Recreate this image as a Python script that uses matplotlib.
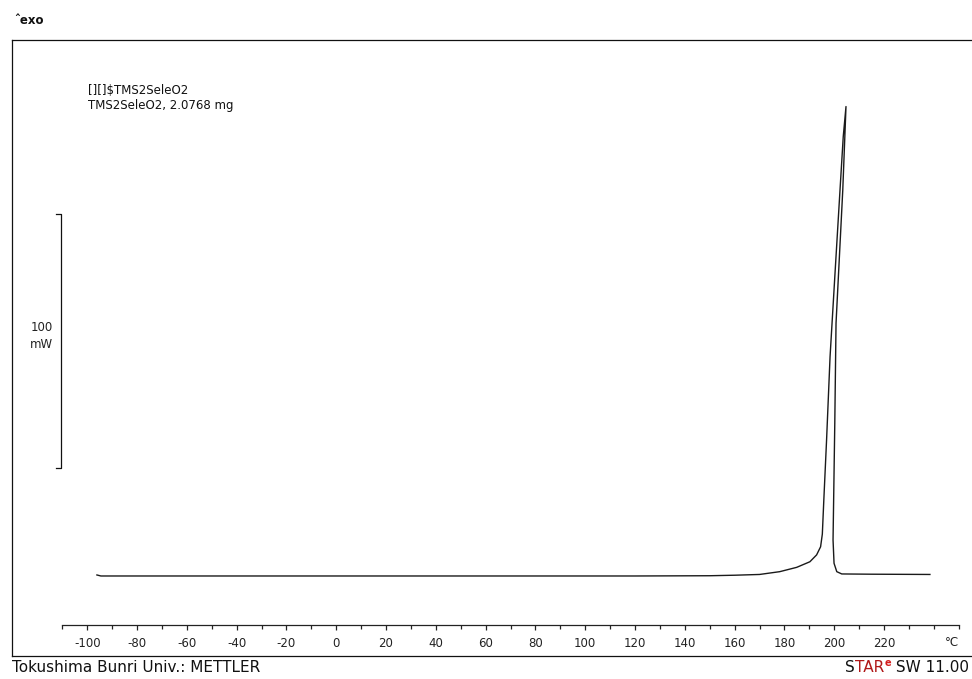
import matplotlib
matplotlib.use("Agg")
import matplotlib.pyplot as plt

plt.rcParams['font.family'] = ['DejaVu Sans']

# DSC heating curve: sample temperature (°C) vs heat flow (mW, exo up, relative to baseline)
temperature = [-96.1, -94.5, -80, -40, 0, 40, 80, 120, 150, 160, 170, 178.1, 184.9,
               190.2, 192.9, 194.5, 195.2, 195.8, 196.9, 198.3, 200.3, 202.3, 203.6,
               204.7, 203.4, 200.7, 200.2, 199.5, 199.9, 201.0, 203.0, 215.0, 238.4]
heat_flow = [0.4, 0.0, 0.0, 0.0, 0.0, 0.0, 0.0, 0.0, 0.1, 0.3, 0.6, 1.7, 3.4,
             5.6, 8.3, 11.5, 16.5, 30.0, 53.5, 86.3, 119.3, 152.0, 173.0,
             184.8, 151.8, 99.5, 60.1, 14.2, 5.0, 1.7, 0.8, 0.7, 0.6]

major_ticks = list(range(-100, 221, 20))
minor_ticks = [t for t in range(-110, 251, 10) if t not in major_ticks]
axis_range = (-110, 250)

scale_mw = 100
scale_bottom = 42.5
scale_x = -110.4

W, H = 972, 679
fig = plt.figure(figsize=(W / 100, H / 100), dpi=100)

# outer frame holding the curve
fl, fb, fw, fh = 12, 23, 960, 616
xlim = (-130.2, 255.3)
ax = fig.add_axes([fl / W, fb / H, fw / W, fh / H])
ax.set_xlim(*xlim)
ax.set_ylim(-31.5, 211.0)
ax.set_xticks([])
ax.set_yticks([])
ax.spines['right'].set_visible(False)
for s in ('left', 'top', 'bottom'):
    ax.spines[s].set_linewidth(0.9)
    ax.spines[s].set_color('#111111')

ax.plot(temperature, heat_flow, color='#1a1a1a', lw=1.0, solid_joinstyle='round')

# 100 mW scale bar
ax.plot([scale_x - 2.2, scale_x, scale_x, scale_x - 2.2],
        [scale_bottom + scale_mw, scale_bottom + scale_mw, scale_bottom, scale_bottom],
        color='#111111', lw=0.9)
ax.text(-118.3, 98.0, f"{scale_mw}", ha='center', va='center', fontsize=8.5, color='#222222')
ax.text(-118.3, 91.0, "mW", ha='center', va='center', fontsize=8.5, color='#222222')

# temperature axis drawn inside the frame
axis_y = (H - 625) / H
tax = fig.add_axes([fl / W, axis_y, fw / W, 0.0001])
tax.set_xlim(*xlim)
tax.patch.set_visible(False)
for s in ('top', 'left', 'right'):
    tax.spines[s].set_visible(False)
tax.spines['bottom'].set_bounds(*axis_range)
tax.spines['bottom'].set_linewidth(0.9)
tax.spines['bottom'].set_color('#222222')
tax.set_yticks([])
tax.set_xticks(major_ticks)
tax.set_xticklabels([str(t) for t in major_ticks])
tax.set_xticks(minor_ticks, minor=True)
tax.tick_params(axis='x', which='major', length=3.8, width=0.9, color='#222222',
                labelsize=8.5, pad=5, labelcolor='#222222')
tax.tick_params(axis='x', which='minor', length=3.0, width=0.9, color='#222222')
fig.text(952 / W, 1 - 643 / H, "°C", ha='center', va='center', fontsize=8.5, color='#222222')

# sample annotations
fig.text(88 / W, 1 - 90 / H, "[][]$TMS2SeleO2", ha='left', va='center', fontsize=8.5, color='#111111')
fig.text(88 / W, 1 - 105 / H, "TMS2SeleO2, 2.0768 mg", ha='left', va='center', fontsize=8.5, color='#111111')

fig.text(14 / W, 1 - 21 / H, "ˆexo", ha='left', va='center', fontsize=8.5, color='#111111',
         fontweight='bold')

fig.text(12 / W, 1 - 668 / H, "Tokushima Bunri Univ.: METTLER", ha='left', va='center',
         fontsize=11, color='#111111')

# software tag with coloured letters
parts = [("S", '#111111', False), ("TAR", '#b01818', False), ("e", '#d41c1c', True),
         (" SW 11.00", '#111111', False)]
fig.canvas.draw()
renderer = fig.canvas.get_renderer()
widths = []
for txt, col, sup in parts:
    t = fig.text(0, 0, txt, fontsize=7 if sup else 11, fontweight='bold' if sup else 'normal')
    widths.append(t.get_window_extent(renderer).width)
    t.remove()
x = 969 - sum(widths)
for (txt, col, sup), w in zip(parts, widths):
    fig.text(x / W, 1 - (663 if sup else 668) / H, txt, ha='left', va='center',
             fontsize=7 if sup else 11, color=col, fontweight='bold' if sup else 'normal')
    x += w

fig.savefig("out.png", dpi=100)
